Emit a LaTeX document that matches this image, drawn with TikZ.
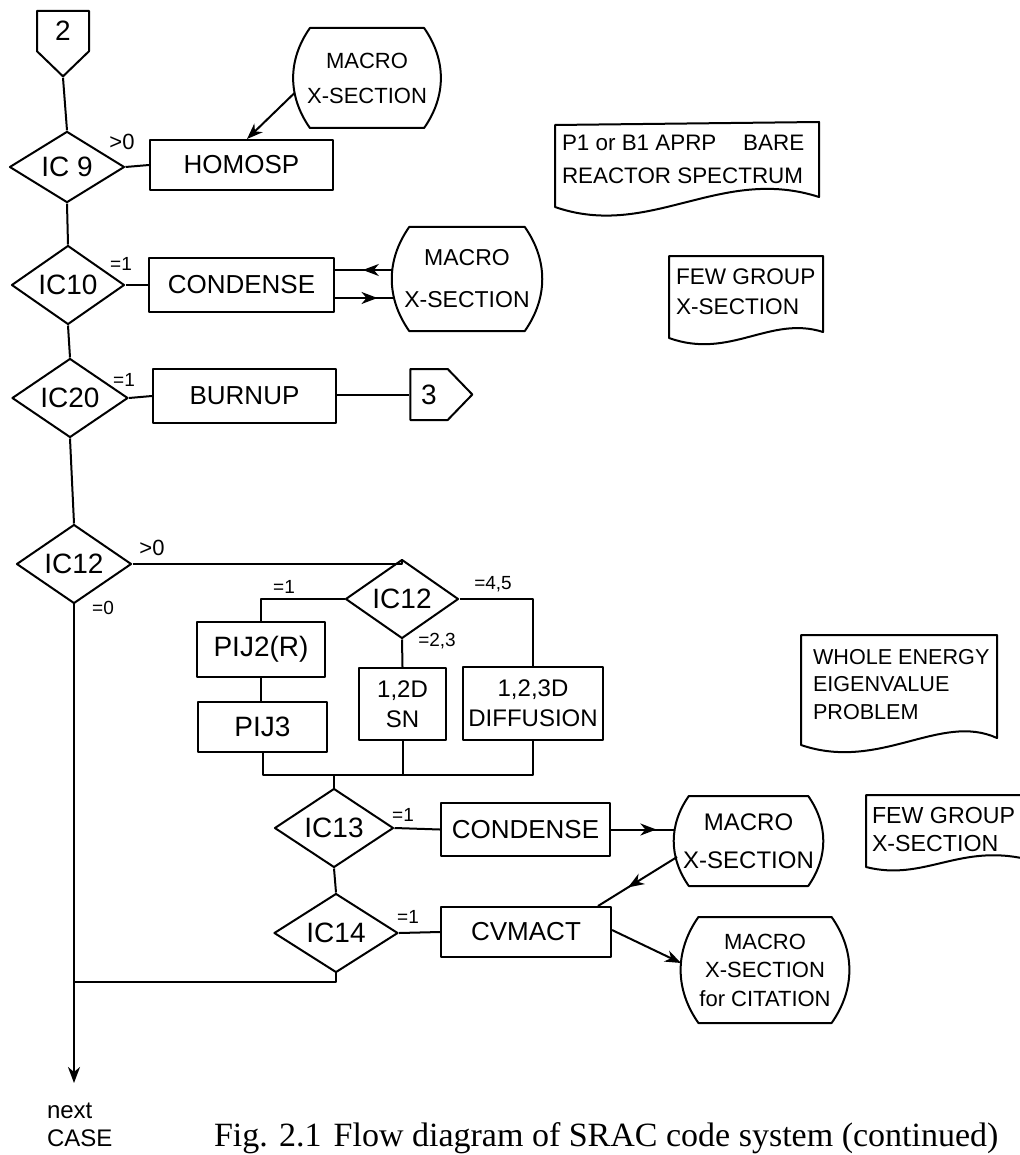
\documentclass[tikz,border=0pt]{standalone}
\usepackage{fontspec}
\setmainfont{Liberation Sans}
\newfontfamily\capfont{Liberation Serif}
\usetikzlibrary{shapes.geometric,shapes.symbols,arrows.meta,calc,decorations.markings}
\newcommand\drawbarrel[2]{%
  \draw ([xshift=#2]#1.north west) -- ([xshift=-#2]#1.north east)
    to[bend left=35] ([xshift=-#2]#1.south east) -- ([xshift=#2]#1.south west)
    to[bend left=35] ([xshift=#2]#1.north west) -- cycle;}
\begin{document}
\begin{tikzpicture}[x=0.5pt,y=-0.5pt, line width=1pt, line join=round,
  box/.style={draw, rectangle, inner sep=0pt, font=\fontsize{13}{15}\selectfont},
  dia/.style={draw, diamond, inner sep=0pt, font=\fontsize{14}{16}\selectfont},
  store/.style={rectangle, inner sep=0pt, align=center},
  lbl/.style={font=\fontsize{9.5}{11}\selectfont, inner sep=0pt},
  conn/.style={draw, signal, inner sep=0pt, font=\fontsize{14}{16}\selectfont, signal pointer angle=92},
  doctext/.style={align=left, anchor=north west, inner sep=0pt},
  arrowend/.style={-{Stealth[length=8pt,width=6pt,inset=2.5pt]}},
  midarr/.style={postaction={decorate},decoration={markings,mark=at position #1 with {\arrow{Stealth[length=8pt,width=6pt,inset=2.5pt]}}}}
]
\useasboundingbox (0,0) rectangle (1019,1155);

% ---- nodes
\node[conn, signal to=south, minimum width=26pt, minimum height=24pt] (c2) at (63,31) {2};
\node[dia, minimum width=57.5pt, minimum height=35pt] (ic9) at (67,167) {IC 9};
\node[box, minimum width=91.5pt, minimum height=25pt] (homosp) at (241.5,165) {HOMOSP};
\node[store, font=\fontsize{11}{17.5}\selectfont, minimum width=72.5pt, minimum height=49pt] (mac1) at (367,78) {MACRO\\X-SECTION};
\drawbarrel{mac1}{8.2pt}

\node[dia, minimum width=56.5pt, minimum height=32.5pt] (ic10) at (68,285) {IC10};
\node[box, minimum width=92.5pt, minimum height=27pt] (cond1) at (241.5,285) {CONDENSE};
\node[store, font=\fontsize{11.5}{21}\selectfont, minimum width=74pt, minimum height=51pt] (mac2) at (467,279) {MACRO\\X-SECTION};
\drawbarrel{mac2}{8.6pt}

\node[dia, minimum width=58pt, minimum height=31.5pt] (ic20) at (70,398) {IC20};
\node[box, minimum width=91.5pt, minimum height=27pt] (burnup) at (244.5,396) {BURNUP};
\node[conn, signal to=east, minimum width=31pt, minimum height=25.5pt] (c3) at (429,394.5) {3};

\node[dia, minimum width=57.5pt, minimum height=32.5pt] (ic12a) at (74,564) {IC12};
\node[dia, minimum width=56.5pt, minimum height=36pt] (ic12b) at (402,599) {IC12};
\node[box, font=\fontsize{14}{16}\selectfont, minimum width=64pt, minimum height=27.5pt] (pij2) at (261,649.5) {PIJ2(R)};
\node[box, font=\fontsize{14}{16}\selectfont, minimum width=64.5pt, minimum height=25pt] (pij3) at (262.5,727) {PIJ3};
\node[box, align=center, font=\fontsize{12}{15}\selectfont, minimum width=43.5pt, minimum height=36pt] (sn) at (402.5,704) {1,2D\\SN};
\node[box, align=center, font=\fontsize{12}{15}\selectfont, minimum width=70pt, minimum height=36.5pt] (diff) at (533,703.5) {1,2,3D\\DIFFUSION};

\node[dia, minimum width=59.5pt, minimum height=32.5pt] (ic13) at (334,828) {IC13};
\node[box, minimum width=84.5pt, minimum height=26.5pt] (cond2) at (525.5,829.5) {CONDENSE};
\node[store, font=\fontsize{12}{19}\selectfont, minimum width=73.5pt, minimum height=44pt] (mac3) at (748.5,841) {MACRO\\X-SECTION};
\drawbarrel{mac3}{7.4pt}

\node[dia, minimum width=62pt, minimum height=34pt] (ic14) at (336,933) {IC14};
\node[box, minimum width=85pt, minimum height=25pt] (cvmact) at (526,932) {CVMACT};
\node[store, font=\fontsize{11}{14.25}\selectfont, minimum width=83pt, minimum height=52pt] (mac4) at (765,970) {MACRO\\X-SECTION\\for CITATION};
\drawbarrel{mac4}{8.7pt}

\coordinate (endpt) at (74,1083);
\coordinate (jn) at (74,982);
\coordinate (mrg) at (334,775);

% ---- labels
\node[lbl, font=\fontsize{11}{12}\selectfont] (l9) at (122,142) {>0};
\node[lbl] (l10) at (121,264) {=1};
\node[lbl] (l20) at (124,380) {=1};
\node[lbl, font=\fontsize{11}{12}\selectfont] (l12a) at (152,548) {>0};
\node[lbl] (l12z) at (103,608) {=0};
\node[lbl] (l12b1) at (284,587) {=1};
\node[lbl] (l12b23) at (437,641) {=2,3};
\node[lbl] (l12b45) at (493,584) {=4,5};
\node[lbl] (l13) at (403,815) {=1};
\node[lbl] (l14) at (408,917) {=1};

% ---- connectors
\draw (c2.south) -- (ic9.north);
\draw (ic9.east) -- (homosp.west);
\draw[arrowend] ($(mac1.west)+(1,15)$) -- ($(homosp.north)+(5.5,0)$);
\draw (ic9.south) -- (ic10.north);
\draw (ic10.east) -- (cond1.west);
\draw[midarr=0.52] ($(mac2.west)+(1,-9)$) -- ($(cond1.east)+(0,-15)$);
\draw[midarr=0.72] ($(cond1.east)+(0,13)$) -- ($(mac2.west)+(2,19)$);
\draw (ic10.south) -- (ic20.north);
\draw (ic20.east) -- (burnup.west);
\draw (c3.west -| burnup.east) -- (c3.west);
\draw (ic20.south) -- (ic12a.north);
\draw (ic12a.east) -| (ic12b.north);
\draw[arrowend] (ic12a.south) -- (endpt);
\draw (ic12b.west) -| (pij2.north);
\draw (ic12b.south) -- (sn.north);
\draw (ic12b.east) -| (diff.north);
\draw (pij2.south) -- (pij2.south |- pij3.north);
\draw (pij3.south) -- (pij3.south |- mrg) -- (diff.south |- mrg) -- (diff.south);
\draw (sn.south) -- (sn.south |- mrg);
\draw (ic13.north |- mrg) -- (ic13.north);
\draw (ic13.east) -- (cond2.west);
\draw[midarr=0.72] (cond2.east) -- (cond2.east -| mac3.west);
\draw (ic13.south) -- (ic14.north);
\draw[midarr=0.62] ($(mac3.west)+(3,16)$) -- ($(cvmact.north east)+(-14,0)$);
\draw (ic14.east) -- (cvmact.west);
\draw[arrowend] ($(cvmact.east)+(0,-2)$) -- ($(mac4.west)+(0,-7)$);
\draw (ic14.south) -- (ic14.south |- jn) -- (jn);

% ---- documents
\draw (555,125) -- (819,122) -- (819,197) .. controls (720,165) and (650,240) .. (555,207) -- cycle;
\node[doctext, font=\fontsize{11.2}{16.5}\selectfont] (doc1) at (561,134) {P1 or B1 APRP\hspace{1.2em}BARE\\REACTOR SPECTRUM};
\draw (669,256) -- (823,256) -- (823,332) .. controls (770,315) and (730,360) .. (669,338) -- cycle;
\node[doctext, font=\fontsize{11.3}{15}\selectfont] (doc2) at (675,268) {FEW GROUP\\X-SECTION};
\draw (801,635) -- (997,635) -- (997,738) .. controls (940,712) and (880,772) .. (801,745) -- cycle;
\node[doctext, font=\fontsize{10.8}{13.75}\selectfont] (doc3) at (812,648) {WHOLE ENERGY\\EIGENVALUE\\PROBLEM};
\draw (1030,795) -- (866,795) -- (866,867) .. controls (925,882) and (960,842) .. (1030,860);
\node[doctext, font=\fontsize{11.6}{14}\selectfont] (doc4) at (871,806) {FEW GROUP\\X-SECTION};

% ---- texts
\node[doctext, font=\fontsize{12}{14}\selectfont] (nextcase) at (46,1102) {next\\CASE};
\node[anchor=base west, inner sep=0pt, font=\capfont\fontsize{17}{19}\selectfont] (caption) at (213,1146) {Fig. 2.1\hspace{6pt}Flow diagram of SRAC code system (continued)};
\end{tikzpicture}
\end{document}
